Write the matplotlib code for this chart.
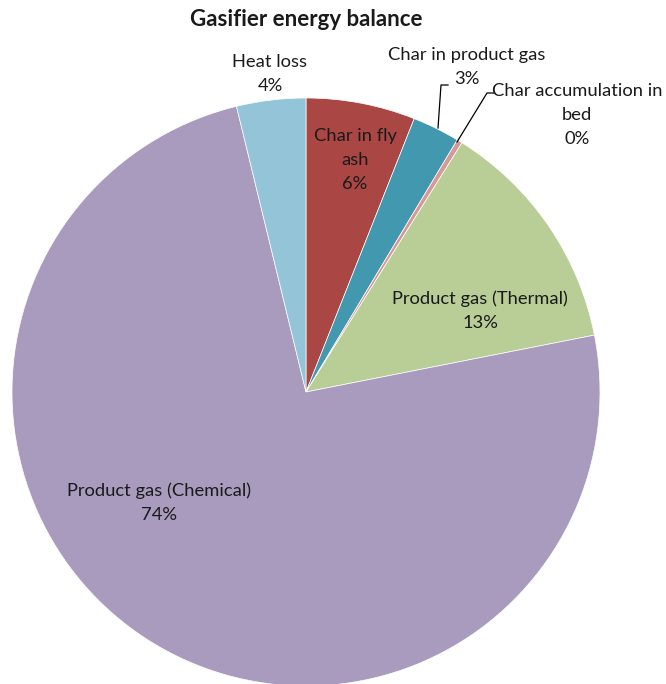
import matplotlib
matplotlib.use("Agg")
import matplotlib.pyplot as plt

# Energy balance shares (%), clockwise from 12 o'clock
categories = ["Char in fly\nash", "Char in product gas", "Char accumulation in\nbed",
              "Product gas (Thermal)", "Product gas (Chemical)", "Heat loss"]
shares = [6.0, 2.6, 0.3, 13.0, 74.3, 3.8]
colors = ["#AA4643", "#4198AF", "#D79896", "#B9CD96", "#A99BBD", "#93C4D7"]

# Label anchor points in figure pixels (x, y from top)
label_pos = [(355, 160), (467, 67), (577, 115), (480, 311), (159, 503), (270, 74)]

W, H = 666, 684
fig = plt.figure(figsize=(W / 100, H / 100), dpi=100)
ax = fig.add_axes([0, 0, 1, 1])

cx, cy, r = 306, H - 392, 294
ax.pie(shares, colors=colors, startangle=90, counterclock=False,
       center=(cx, cy), radius=r, frame=True,
       wedgeprops=dict(linewidth=0.5, edgecolor="white"))
ax.set_xlim(0, W)
ax.set_ylim(0, H)
ax.set_aspect("equal")
ax.axis("off")

font = ["Lato", "DejaVu Sans"]
for name, val, (px, py) in zip(categories, shares, label_pos):
    ax.text(px, H - py, f"{name}\n{round(val + 1e-9):.0f}%", ha="center", va="center",
            fontsize=13.2, family=font, color="#1a1a1a", linespacing=1.62)

# Leader lines for the two thin slices
ax.plot([438, 441, 448], [H - 128, H - 85, H - 85], color="black", lw=0.9)
ax.plot([457, 487, 494], [H - 142, H - 93, H - 93], color="black", lw=0.9)

ax.text(306, H - 20, "Gasifier energy balance", ha="center", va="center",
        fontsize=16, fontweight="bold", family=font, color="#1a1a1a")

fig.savefig("out.png", dpi=100)
